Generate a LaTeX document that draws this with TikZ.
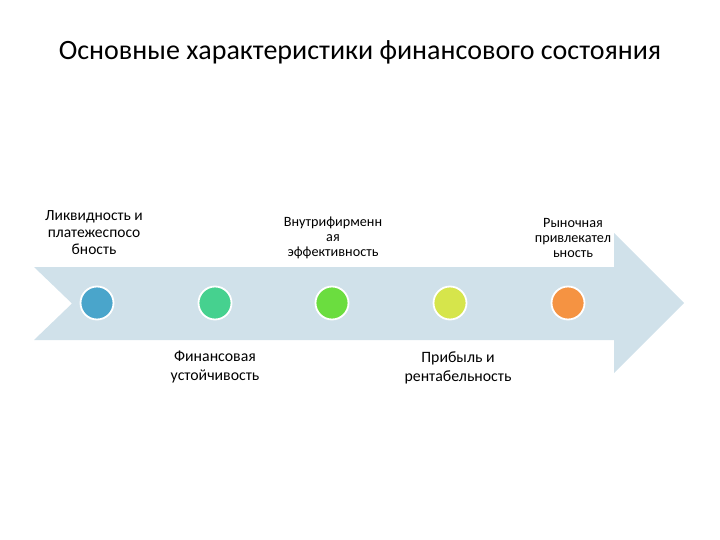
\documentclass[tikz,border=0pt]{standalone}
\usepackage{fontspec}
\setmainfont{Carlito}
\definecolor{arrowbg}{RGB}{208,225,234}
\definecolor{dotA}{RGB}{74,165,203}
\definecolor{dotB}{RGB}{70,209,143}
\definecolor{dotC}{RGB}{107,221,63}
\definecolor{dotD}{RGB}{214,229,75}
\definecolor{dotE}{RGB}{245,147,66}
\begin{document}
\begin{tikzpicture}[x=1pt,y=-1pt,
  dot/.style={circle,draw=white,line width=1.8pt,minimum size=33pt,inner sep=0pt},
  lblA/.style={align=center,font=\fontsize{15.5}{17}\selectfont,inner sep=1pt},
  lblB/.style={align=center,font=\fontsize{14.2}{15}\selectfont,inner sep=1pt},
  lblC/.style={align=center,font=\fontsize{15.8}{18.5}\selectfont,inner sep=1pt}]
\useasboundingbox (0,0) rectangle (720,540);
\node (title) at (360,52) {\fontsize{28}{33}\selectfont Основные характеристики финансового состояния};
% arrow
\fill[arrowbg] (34,267) -- (614,267) -- (614,233) -- (684,303) -- (614,373) -- (614,340) -- (34,340) -- (72,303.5) -- cycle;
% dots
\node[dot,fill=dotA] (c1) at (97,303) {};
\node[dot,fill=dotB] (c2) at (215,303) {};
\node[dot,fill=dotC] (c3) at (332,303) {};
\node[dot,fill=dotD] (c4) at (450,303) {};
\node[dot,fill=dotE] (c5) at (568,303) {};
% labels
\node[lblA] (t1) at (94,233) {Ликвидность и\\платежеспосо\\бность};
\node[lblB] (t2) at (333,238) {Внутрифирменн\\ая\\эффективность};
\node[lblB] (t3) at (573,238) {Рыночная\\привлекател\\ьность};
\node[lblC] (t4) at (215,367) {Финансовая\\устойчивость};
\node[lblC] (t5) at (458,368) {Прибыль и\\рентабельность};
\end{tikzpicture}
\end{document}
